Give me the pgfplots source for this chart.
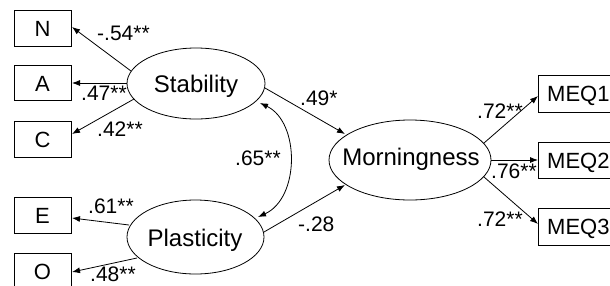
\documentclass[border=0pt]{standalone}
\usepackage{fontspec}
\setmainfont{Liberation Sans}
\usepackage{pgfplots}
\pgfplotsset{compat=1.18}
\usetikzlibrary{arrows.meta}
\begin{document}
\begin{tikzpicture}[
  big/.style={font=\fontsize{24}{28}\selectfont, inner sep=0pt},
  box/.style={font=\fontsize{22}{26}\selectfont, inner sep=0pt},
  coef/.style={font=\fontsize{21}{25}\selectfont, inner sep=0pt, anchor=base west},
  arr/.style={line width=0.8pt, -{Latex[length=8pt,width=6pt]}}
]
\begin{axis}[scale only axis, width=610pt, height=285pt,
  xmin=0, xmax=610, ymin=0, ymax=285, y dir=reverse,
  hide axis, clip=true, anchor=south west, at={(0pt,0pt)}]
% boxes
\draw[line width=0.8pt] (axis cs:14,10) rectangle (axis cs:71,46.5);
\draw[line width=0.8pt] (axis cs:14,65) rectangle (axis cs:71,100.5);
\draw[line width=0.8pt] (axis cs:14,121) rectangle (axis cs:71,157);
\draw[line width=0.8pt] (axis cs:14,197) rectangle (axis cs:71,233);
\draw[line width=0.8pt] (axis cs:14,253) rectangle (axis cs:71,289);
\draw[line width=0.8pt] (axis cs:538,75) rectangle (axis cs:630,112);
\draw[line width=0.8pt] (axis cs:538,142) rectangle (axis cs:630,178);
\draw[line width=0.8pt] (axis cs:538,208) rectangle (axis cs:630,245);
\node[box, anchor=base] at (axis cs:42.5,36.5) {N};
\node[box, anchor=base] at (axis cs:42.5,91) {A};
\node[box, anchor=base] at (axis cs:42.5,147) {C};
\node[box, anchor=base] at (axis cs:42.5,223) {E};
\node[box, anchor=base] at (axis cs:42.5,279) {O};
\node[box, anchor=base west] at (axis cs:547,101.5) {MEQ1};
\node[box, anchor=base west] at (axis cs:547,168) {MEQ2};
\node[box, anchor=base west] at (axis cs:547,234.5) {MEQ3};
% ellipses
\draw[line width=0.8pt] (axis cs:196,83.5) ellipse [x radius=69, y radius=35.5];
\draw[line width=0.8pt] (axis cs:195.5,237) ellipse [x radius=68.5, y radius=37];
\draw[line width=0.8pt] (axis cs:410,160) ellipse [x radius=81, y radius=40];
\node[big, anchor=base] at (axis cs:196,92) {Stability};
\node[big, anchor=base] at (axis cs:195,246) {Plasticity};
\node[big, anchor=base] at (axis cs:411,165) {Morningness};
% arrows
\addplot[arr] coordinates {(131,71) (72,27)};
\addplot[arr] coordinates {(127,83) (72,83)};
\addplot[arr] coordinates {(134,99) (72,134)};
\addplot[arr] coordinates {(129,225) (72,218)};
\addplot[arr] coordinates {(137,258) (72,272)};
\addplot[arr] coordinates {(265,88) (345,134)};
\addplot[arr] coordinates {(264,232) (345,185)};
\addplot[arr] coordinates {(484,143) (538,96)};
\addplot[arr] coordinates {(491,160) (538,160)};
\addplot[arr] coordinates {(484,177) (538,224)};
\draw[line width=0.8pt, {Latex[length=8pt,width=6pt]}-{Latex[length=8pt,width=6pt]}]
  (axis cs:260,103) .. controls (axis cs:300,122) and (axis cs:300,198) .. (axis cs:258,217);
% coefficients
\node[coef] at (axis cs:97,40) {-.54**};
\node[coef] at (axis cs:81,100) {.47**};
\node[coef] at (axis cs:97,136) {.42**};
\node[coef] at (axis cs:235,165) {.65**};
\node[coef] at (axis cs:88,213) {.61**};
\node[coef] at (axis cs:90,281) {.48**};
\node[coef] at (axis cs:300,105) {.49*};
\node[coef] at (axis cs:298,231) {-.28};
\node[coef] at (axis cs:477,118) {.72**};
\node[coef] at (axis cs:491,178) {.76**};
\node[coef] at (axis cs:477,226) {.72**};
\end{axis}
\pgfresetboundingbox
\path[use as bounding box] (0pt,0pt) rectangle (610pt,285pt);
\end{tikzpicture}
\end{document}
